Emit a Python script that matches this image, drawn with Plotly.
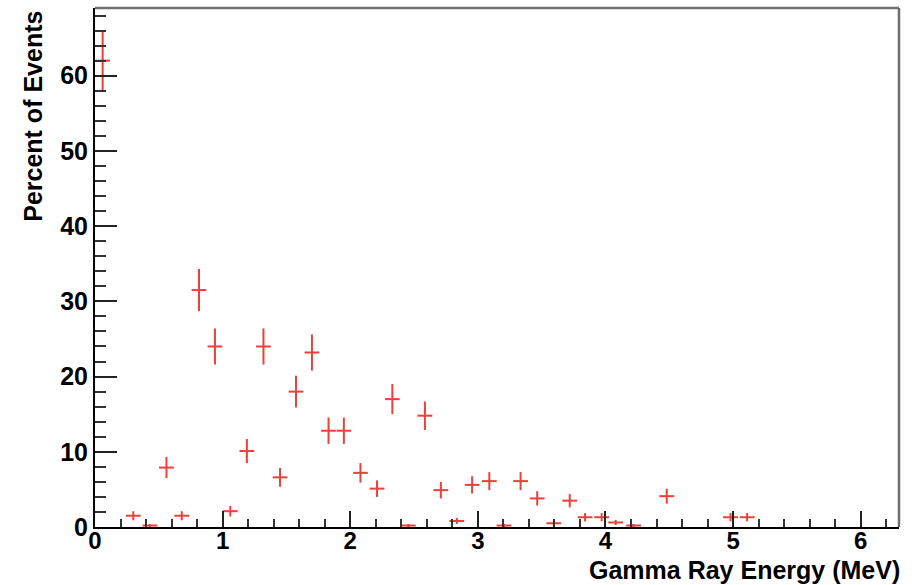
import plotly.graph_objects as go

# Bin centres (MeV), percent of events, and errors
energy = [0.06, 0.30, 0.43, 0.56, 0.68, 0.815, 0.94, 1.06, 1.19, 1.32, 1.45, 1.575,
          1.70, 1.83, 1.95, 2.08, 2.21, 2.33, 2.455, 2.585, 2.71, 2.835, 2.955, 3.09,
          3.205, 3.335, 3.465, 3.595, 3.72, 3.84, 3.97, 4.08, 4.22, 4.48, 4.98, 5.11]
percent = [62.0, 1.5, 0.2, 7.9, 1.5, 31.5, 24.0, 2.1, 10.1, 24.0, 6.6, 18.0,
           23.2, 12.8, 12.8, 7.2, 5.1, 17.0, 0.2, 14.8, 4.9, 0.8, 5.6, 6.1,
           0.2, 6.1, 3.8, 0.5, 3.5, 1.3, 1.3, 0.6, 0.2, 4.1, 1.3, 1.3]
y_err = [3.9, 0.6, 0.2, 1.4, 0.6, 2.8, 2.4, 0.7, 1.6, 2.4, 1.25, 2.1,
         2.4, 1.75, 1.75, 1.3, 1.1, 2.0, 0.2, 1.9, 1.1, 0.4, 1.15, 1.2,
         0.2, 1.2, 0.95, 0.35, 0.9, 0.55, 0.55, 0.35, 0.2, 1.0, 0.55, 0.55]
x_half_width = [0.058] * len(energy)

RED = "rgb(236,64,58)"
FONT = "Liberation Sans, Arial, Helvetica, sans-serif"

fig = go.Figure()
fig.add_trace(go.Scatter(
    x=energy, y=percent, mode="markers",
    marker=dict(size=0.1, color=RED),
    error_y=dict(type="data", array=y_err, visible=True, color=RED, thickness=2, width=0),
    error_x=dict(type="data", array=x_half_width, visible=True, color=RED, thickness=2, width=0),
    showlegend=False, hoverinfo="x+y",
))

fig.update_layout(
    width=912, height=585,
    margin=dict(l=95, r=13, t=8, b=58),
    paper_bgcolor="white", plot_bgcolor="white",
    font=dict(family=FONT, size=25, color="black"),
    xaxis=dict(
        range=[0, 6.3], showgrid=False, zeroline=False,
        showline=True, linecolor="black", linewidth=2,
        ticks="inside", ticklen=16, tickwidth=2, tickcolor="#222",
        tickmode="array", tickvals=[0, 1, 2, 3, 4, 5, 6],
        ticktext=["0", "1", "2", "3", "4", "5", "6"],
        tickfont=dict(family=FONT, size=24, color="black", weight="bold"),
        ticklabelstandoff=-9,
        minor=dict(ticks="inside", dtick=0.2, tick0=0, ticklen=8, tickwidth=2, tickcolor="#333"),
    ),
    yaxis=dict(
        range=[0, 69], showgrid=False, zeroline=False,
        showline=True, linecolor="black", linewidth=2,
        ticks="inside", ticklen=22, tickwidth=2, tickcolor="#222",
        tickmode="array", tickvals=[0, 10, 20, 30, 40, 50, 60],
        ticktext=["0", "10", "20", "30", "40", "50", "60"],
        tickfont=dict(family=FONT, size=25, color="black", weight="bold"),
        minor=dict(ticks="inside", dtick=2, tick0=0, ticklen=11, tickwidth=2, tickcolor="#333"),
    ),
    shapes=[
        dict(type="line", xref="paper", yref="paper", x0=0, x1=1, y0=1, y1=1,
             line=dict(color="#707070", width=2.5)),
        dict(type="line", xref="paper", yref="paper", x0=1, x1=1, y0=0, y1=1,
             line=dict(color="#707070", width=2.5)),
    ],
    annotations=[
        dict(text="<b>Percent of Events</b>", xref="paper", yref="paper",
             x=-0.078, y=1, xanchor="center", yanchor="top", yshift=-1,
             textangle=-90, showarrow=False,
             font=dict(family=FONT, size=25, color="black")),
        dict(text="<b>Gamma Ray Energy (MeV)</b>", xref="paper", yref="paper",
             x=1, y=0, xanchor="right", yanchor="top", yshift=-27, xshift=3,
             showarrow=False,
             font=dict(family=FONT, size=25, color="black")),
    ],
)

fig.write_html("out.html")
